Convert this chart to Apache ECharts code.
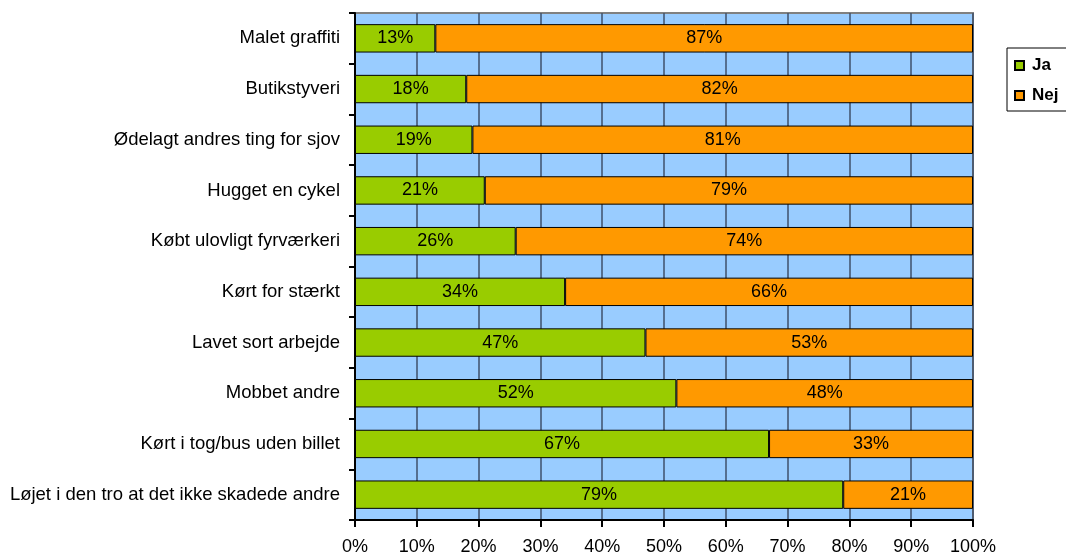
<!DOCTYPE html>
<html>
<head>
<meta charset="utf-8">
<script src="https://cdn.jsdelivr.net/npm/echarts@6/dist/echarts.min.js"></script>
<style>
html,body{margin:0;padding:0;background:#fff;}
#chart{width:1066px;height:554px;}
</style>
</head>
<body>
<div id="chart"></div>
<script>
const categories = [
  "Malet graffiti",
  "Butikstyveri",
  "Ødelagt andres ting for sjov",
  "Hugget en cykel",
  "Købt ulovligt fyrværkeri",
  "Kørt for stærkt",
  "Lavet sort arbejde",
  "Mobbet andre",
  "Kørt i tog/bus uden billet",
  "Løjet i den tro at det ikke skadede andre"
];
const jaValues = [13, 18, 19, 21, 26, 34, 47, 52, 67, 79];
const nejValues = [87, 82, 81, 79, 74, 66, 53, 48, 33, 21];
const seriesNames = ["Ja", "Nej"];

const font = "Liberation Sans, Arial, sans-serif";
const chart = echarts.init(document.getElementById('chart'));
chart.setOption({
  animation: false,
  backgroundColor: '#ffffff',
  textStyle: { fontFamily: font },
  grid: {
    left: 355, right: 93, top: 13, bottom: 34,
    show: true, backgroundColor: '#99CCFF',
    borderColor: '#808080', borderWidth: 2,
    containLabel: false,
    outerBoundsMode: 'none'
  },
  legend: {
    orient: 'vertical',
    left: 1007, top: 48,
    data: seriesNames,
    icon: 'rect',
    itemWidth: 9, itemHeight: 9,
    itemGap: 13,
    padding: [9, 40, 7, 7],
    borderColor: '#000', borderWidth: 1,
    textStyle: { fontFamily: font, fontSize: 17, fontWeight: 'bold', color: '#000', padding: [0, 0, 0, 3] }
  },
  xAxis: {
    type: 'value', min: 0, max: 100, interval: 10,
    axisLine: { show: true, lineStyle: { color: '#000', width: 2 } },
    axisTick: { show: true, length: 7, lineStyle: { color: '#000', width: 2 } },
    axisLabel: { formatter: '{value}%', color: '#000', fontSize: 18, fontFamily: font, margin: 18 },
    splitLine: { show: true, lineStyle: { color: '#3f506b', width: 1.5 } }
  },
  yAxis: {
    type: 'category', inverse: true, data: categories,
    axisLine: { show: true, lineStyle: { color: '#000', width: 2 } },
    axisTick: { show: true, length: 6, lineStyle: { color: '#000', width: 2 } },
    axisLabel: { color: '#000', fontSize: 18.5, fontFamily: font, margin: 15 },
    splitLine: { show: false }
  },
  series: [
    {
      name: seriesNames[0], type: 'bar', stack: 'total', data: jaValues,
      barWidth: '56%',
      itemStyle: { color: '#99CC00', borderColor: '#000', borderWidth: 1 },
      label: { show: true, position: 'inside', formatter: '{c}%', color: '#000', fontSize: 18, fontFamily: font }
    },
    {
      name: seriesNames[1], type: 'bar', stack: 'total', data: nejValues,
      barWidth: '56%',
      itemStyle: { color: '#FF9900', borderColor: '#000', borderWidth: 1 },
      label: { show: true, position: 'inside', formatter: '{c}%', color: '#000', fontSize: 18, fontFamily: font }
    }
  ]
});
</script>
</body>
</html>
